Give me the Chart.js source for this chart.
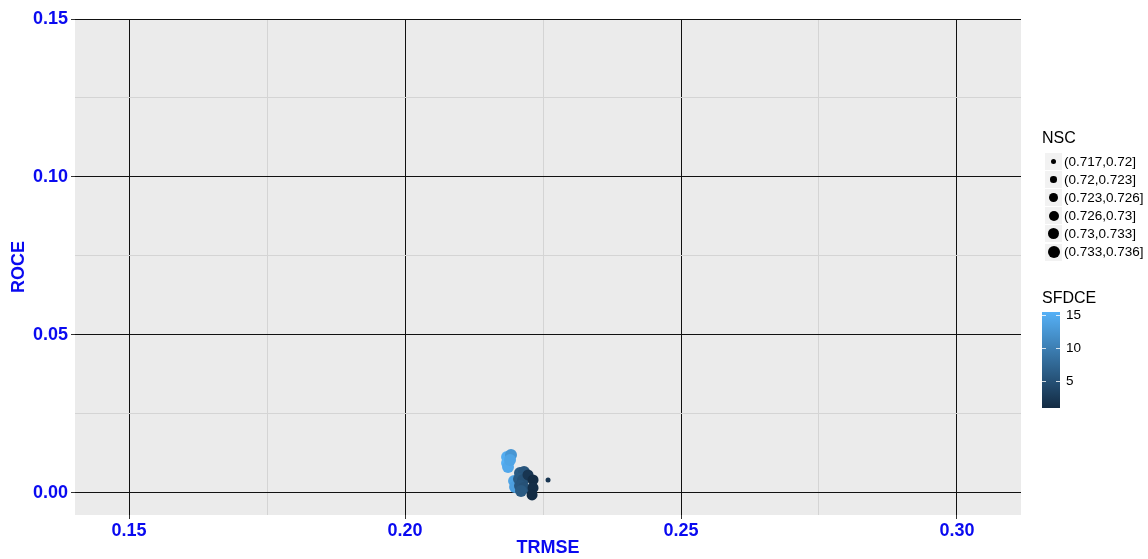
<!DOCTYPE html>
<html>
<head>
<meta charset="utf-8">
<script src="https://cdn.jsdelivr.net/npm/chart.js@4.4.1/dist/chart.umd.min.js"></script>
<style>
  html, body { margin: 0; padding: 0; background: #ffffff; }
  #wrap { position: relative; width: 1148px; height: 559px; font-family: "Liberation Sans", Arial, sans-serif; color: #000; }
  #chart { position: absolute; left: 0; top: 0; }
  .ltitle { position: absolute; font-size: 16px; line-height: 16px; white-space: nowrap; }
  .lkey { position: absolute; width: 17px; height: 17px; background: #F2F2F2; }
  .ldot { position: absolute; border-radius: 50%; background: #000; }
  .ltext { position: absolute; font-size: 13.5px; line-height: 14px; white-space: nowrap; }
  .btick { position: absolute; height: 1px; background: rgba(255,255,255,0.8); width: 4px; }
  .blabel { position: absolute; font-size: 13.5px; line-height: 14px; }
</style>
</head>
<body>
<div id="wrap">
  <canvas id="chart" width="1148" height="559"></canvas>
  <div id="legend"></div>
</div>
<script>
// Model runs: error metrics per run
const trmse = [0.21848, 0.21920, 0.21848, 0.21866, 0.21902, 0.21975, 0.21993,
               0.22083, 0.22156, 0.22065, 0.22138, 0.22083, 0.22156, 0.22101,
               0.22228, 0.22319, 0.22319, 0.22301, 0.22591];
const roce  = [0.01139, 0.01203, 0.00949, 0.00823, 0.01044, 0.00380, 0.00190,
               0.00633, 0.00665, 0.00443, 0.00411, 0.00222, 0.00158, 0.00063,
               0.00570, 0.00411, 0.00158, -0.00063, 0.00411];
const nsc   = [0.7345, 0.7340, 0.7345, 0.7340, 0.7345, 0.7340, 0.7335,
               0.7345, 0.7340, 0.7345, 0.7340, 0.7345, 0.7340, 0.7335,
               0.7320, 0.7310, 0.7315, 0.7310, 0.7185];
const sfdce = [15, 12.5, 15.4, 14.5, 14, 14, 13.5,
               6, 5.5, 6, 5, 5.5, 5, 6,
               2, 1, 1.2, 1, 2];

// Axis ticks
const xMajor = [0.15, 0.20, 0.25, 0.30];
const xMinor = [0.175, 0.225, 0.275];
const yMajor = [0.00, 0.05, 0.10, 0.15];
const yMinor = [0.025, 0.075, 0.125];

// NSC size bins and labels
const nscBreaks = [0.717, 0.72, 0.723, 0.726, 0.73, 0.733, 0.736];
const nscLabels = ['(0.717,0.72]', '(0.72,0.723]', '(0.723,0.726]', '(0.726,0.73]', '(0.73,0.733]', '(0.733,0.736]'];
const nscRadii  = [2.5, 3.3, 4.4, 5, 5.5, 6];

// SFDCE colour scale
const sfdceRange = [0.9, 15.45];
const sfdceTicks = [5, 10, 15];
const lowColor = [0x13, 0x2B, 0x43];
const highColor = [0x56, 0xB1, 0xF7];

const blue = '#0a0af0';

function colorFor(v) {
  const t = Math.max(0, Math.min(1, (v - sfdceRange[0]) / (sfdceRange[1] - sfdceRange[0])));
  const c = lowColor.map((lo, i) => Math.round(lo + (highColor[i] - lo) * t));
  return `rgb(${c[0]},${c[1]},${c[2]})`;
}
function binOf(v) {
  for (let i = 0; i < nscLabels.length; i++) {
    if (v > nscBreaks[i] && v <= nscBreaks[i + 1]) return i;
  }
  return v <= nscBreaks[0] ? 0 : nscLabels.length - 1;
}
const isIn = (arr, v) => arr.some(a => Math.abs(a - v) < 1e-9);

const points = trmse.map((x, i) => ({ x: x, y: roce[i] }));

const panelBg = {
  id: 'panelBg',
  beforeDraw(chart) {
    const { ctx, chartArea: a } = chart;
    ctx.save();
    ctx.fillStyle = '#EBEBEB';
    ctx.fillRect(a.left, a.top, a.right - a.left, a.bottom - a.top);
    ctx.restore();
  }
};

function axisOpts(major, minor, min, max, title, isX) {
  return {
    type: 'linear',
    min: min,
    max: max,
    afterBuildTicks(scale) {
      scale.ticks = major.concat(minor).sort((a, b) => a - b).map(v => ({ value: v }));
    },
    afterFit(scale) {
      if (isX) scale.height = 44; else scale.width = 75;
    },
    border: { display: false },
    grid: {
      color: ctx => (ctx.tick && isIn(major, ctx.tick.value)) ? '#111111' : '#D4D4D4',
      lineWidth: 1,
      tickColor: ctx => (ctx.tick && isIn(major, ctx.tick.value)) ? '#333333' : 'rgba(0,0,0,0)',
      tickLength: 4
    },
    ticks: {
      autoSkip: false,
      maxRotation: 0,
      padding: isX ? 1 : 3,
      color: blue,
      font: { family: '"Liberation Sans", Arial, sans-serif', size: 18, weight: 'bold' },
      callback: v => isIn(major, v) ? v.toFixed(2) : ''
    },
    title: {
      display: true,
      text: title,
      color: blue,
      padding: isX ? 0 : { top: 8, bottom: 0 },
      font: { family: '"Liberation Sans", Arial, sans-serif', size: 18, weight: 'bold' }
    }
  };
}

new Chart(document.getElementById('chart'), {
  type: 'scatter',
  data: {
    datasets: [{
      data: points,
      pointStyle: 'circle',
      borderWidth: 0,
      pointRadius: ctx => nscRadii[binOf(nsc[ctx.dataIndex])],
      pointHoverRadius: ctx => nscRadii[binOf(nsc[ctx.dataIndex])],
      backgroundColor: ctx => colorFor(sfdce[ctx.dataIndex]),
      borderColor: ctx => colorFor(sfdce[ctx.dataIndex])
    }]
  },
  options: {
    responsive: false,
    animation: false,
    layout: { padding: { top: 19, right: 127, left: 0, bottom: 0 } },
    plugins: { legend: { display: false }, tooltip: { enabled: false } },
    scales: {
      x: axisOpts(xMajor, xMinor, 0.1402, 0.3116, 'TRMSE', true),
      y: axisOpts(yMajor, yMinor, -0.0070, 0.15, 'ROCE', false)
    }
  },
  plugins: [panelBg]
});

// Legends
const legend = document.getElementById('legend');
function add(cls, style, text) {
  const d = document.createElement('div');
  d.className = cls;
  Object.assign(d.style, style);
  if (text !== undefined) d.textContent = text;
  legend.appendChild(d);
  return d;
}

add('ltitle', { left: '1042px', top: '130px' }, 'NSC');
const rowTop = 153, rowStep = 18.1;
nscLabels.forEach((lab, i) => {
  const cy = rowTop + i * rowStep + 8.5;
  add('lkey', { left: '1045px', top: (cy - 8.5) + 'px' });
  const r = nscRadii[i];
  add('ldot', { left: (1053.5 - r) + 'px', top: (cy - r) + 'px', width: (2 * r) + 'px', height: (2 * r) + 'px' });
  add('ltext', { left: '1064px', top: (cy - 7) + 'px' }, lab);
});

add('ltitle', { left: '1042px', top: '290px' }, 'SFDCE');
const barTop = 312, barH = 96, barLeft = 1042, barW = 18;
add('', {
  position: 'absolute', left: barLeft + 'px', top: barTop + 'px', width: barW + 'px', height: barH + 'px',
  background: `linear-gradient(to bottom, ${colorFor(sfdceRange[1])}, ${colorFor((sfdceRange[0] + sfdceRange[1]) / 2)}, ${colorFor(sfdceRange[0])})`
});
sfdceTicks.forEach(v => {
  const y = barTop + (sfdceRange[1] - v) / (sfdceRange[1] - sfdceRange[0]) * barH;
  add('btick', { left: barLeft + 'px', top: Math.round(y) + 'px' });
  add('btick', { left: (barLeft + barW - 4) + 'px', top: Math.round(y) + 'px' });
  add('blabel', { left: '1066px', top: (y - 7) + 'px' }, String(v));
});
</script>
</body>
</html>
